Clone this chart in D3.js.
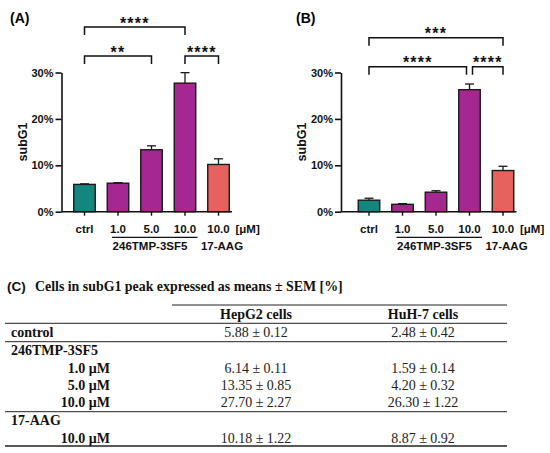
<!DOCTYPE html>
<html>
<head>
<meta charset="utf-8">
<script src="https://cdn.jsdelivr.net/npm/d3@7/dist/d3.min.js"></script>
<style>
html,body{margin:0;padding:0;background:#fff;}
svg{display:block;}
</style>
</head>
<body>
<svg id="chart" width="550" height="453"></svg>
<script>
// ---------- data ----------
const categories = ["ctrl", "1.0", "5.0", "10.0", "10.0 "];
const tickLabels = ["ctrl", "1.0", "5.0", "10.0", "10.0"];
const hepg2Mean = [5.88, 6.14, 13.35, 27.70, 10.18];
const hepg2Sem  = [0.12, 0.11, 0.85, 2.27, 1.22];
const huh7Mean  = [2.48, 1.59, 4.20, 26.30, 8.87];
const huh7Sem   = [0.42, 0.14, 0.32, 1.22, 0.92];
const yTicks = [0, 10, 20, 30];
const barGroup = ["ctrl", "tmp", "tmp", "tmp", "aag"];
// significance: [from index, to index, label, level]
const sigA = [[0, 3, "****", 0], [0, 2, "**", 1], [3, 4, "****", 1]];
const sigB = [[0, 4, "***", 0], [0, 3, "****", 1], [3, 4, "****", 1]];
const tableRows = [
  {label: "control", hep: "5.88 ± 0.12", huh: "2.48 ± 0.42", type: "main"},
  {label: "246TMP-3SF5", hep: "", huh: "", type: "main"},
  {label: "1.0 μM", hep: "6.14 ± 0.11", huh: "1.59 ± 0.14", type: "sub"},
  {label: "5.0 μM", hep: "13.35 ± 0.85", huh: "4.20 ± 0.32", type: "sub"},
  {label: "10.0 μM", hep: "27.70 ± 2.27", huh: "26.30 ± 1.22", type: "sub"},
  {label: "17-AAG", hep: "", huh: "", type: "main"},
  {label: "10.0 μM", hep: "10.18 ± 1.22", huh: "8.87 ± 0.92", type: "sub"}
];
const tableHeaders = ["HepG2 cells", "HuH-7 cells"];

// ---------- style ----------
const colors = {ctrl: "#12877f", tmp: "#a4288f", aag: "#e5625e"};
const SANS = "'Liberation Sans', Arial, sans-serif";
const SERIF = "'Liberation Serif', 'Times New Roman', serif";

const svg = d3.select("#chart");
svg.append("rect").attr("width", 550).attr("height", 453).attr("fill", "#fff");

const y = d3.scaleLinear().domain([0, 30]).range([211.7, 72.5]);

function panel(cfg) {
  const g = svg.append("g");
  const x = d3.scalePoint().domain(categories).range([cfg.x0, cfg.x0 + 134]);
  const bw = 21.5;

  // panel label
  g.append("text").attr("x", cfg.labelX).attr("y", 22.5)
    .attr("font-family", SANS).attr("font-weight", "bold").attr("font-size", 14)
    .text(cfg.label);

  // y axis
  const yAxis = d3.axisLeft(y).tickValues(yTicks).tickFormat(d => d + "%")
    .tickSize(6).tickSizeOuter(0).tickPadding(2);
  const ya = g.append("g").attr("transform", `translate(${cfg.axisX},0)`).call(yAxis);
  ya.select(".domain").attr("stroke", "#111").attr("stroke-width", 1.6);
  ya.selectAll(".tick line").attr("stroke", "#111").attr("stroke-width", 1.6);
  ya.selectAll(".tick text").attr("font-family", SANS).attr("font-weight", "bold")
    .attr("font-size", 11).attr("fill", "#111");

  // y title
  g.append("text").attr("transform", `translate(${cfg.axisX - 35},${142}) rotate(-90)`)
    .attr("text-anchor", "middle").attr("font-family", SANS).attr("font-weight", "bold")
    .attr("font-size", 12.5).attr("fill", "#111").text("subG1");

  // bars
  const data = cfg.mean.map((m, i) => ({c: categories[i], m, s: cfg.sem[i], grp: barGroup[i]}));
  g.selectAll("rect.bar").data(data).enter().append("rect").attr("class", "bar")
    .attr("x", d => x(d.c) - bw / 2).attr("width", bw)
    .attr("y", d => y(d.m)).attr("height", d => y(0) - y(d.m))
    .attr("fill", d => colors[d.grp]).attr("stroke", "#1a1a1a").attr("stroke-width", 1.4);

  // error bars (upper only)
  const eb = g.selectAll("g.err").data(data).enter().append("g").attr("class", "err")
    .attr("stroke", "#1a1a1a").attr("stroke-width", 1.3);
  eb.append("line").attr("x1", d => x(d.c)).attr("x2", d => x(d.c))
    .attr("y1", d => y(d.m)).attr("y2", d => y(d.m + d.s));
  eb.append("line").attr("x1", d => x(d.c) - 4.5).attr("x2", d => x(d.c) + 4.5)
    .attr("y1", d => y(d.m + d.s)).attr("y2", d => y(d.m + d.s));

  // x axis
  g.append("line").attr("x1", cfg.axisX).attr("x2", x(categories[4]) + 13.5)
    .attr("y1", y(0)).attr("y2", y(0)).attr("stroke", "#111").attr("stroke-width", 1.6);
  g.selectAll("line.xt").data(categories).enter().append("line").attr("class", "xt")
    .attr("x1", d => x(d)).attr("x2", d => x(d)).attr("y1", y(0)).attr("y2", y(0) + 4)
    .attr("stroke", "#111").attr("stroke-width", 1.4);
  g.selectAll("text.xl").data(categories).enter().append("text").attr("class", "xl")
    .attr("x", d => x(d)).attr("y", 232.5).attr("text-anchor", "middle")
    .attr("font-family", SANS).attr("font-weight", "bold").attr("font-size", 11.5)
    .attr("fill", "#111").text((d, i) => tickLabels[i]);
  g.append("text").attr("x", x(categories[4]) + 17).attr("y", 232.5)
    .attr("font-family", SANS).attr("font-weight", "bold").attr("font-size", 11.5)
    .attr("fill", "#111").text("[μM]");

  // group underline + labels
  g.append("line").attr("x1", x(categories[1]) - 6).attr("x2", x(categories[3]) + 12.5)
    .attr("y1", 237.3).attr("y2", 237.3).attr("stroke", "#111").attr("stroke-width", 1.2);
  g.append("text").attr("x", x(categories[2]) - 1.5).attr("y", 250).attr("text-anchor", "middle")
    .attr("font-family", SANS).attr("font-weight", "bold").attr("font-size", 11.5)
    .attr("fill", "#111").text("246TMP-3SF5");
  g.append("text").attr("x", x(categories[4]) + 3.5).attr("y", 250).attr("text-anchor", "middle")
    .attr("font-family", SANS).attr("font-weight", "bold").attr("font-size", 11.5)
    .attr("fill", "#111").text("17-AAG");

  // significance brackets
  cfg.sig.forEach(([a, b, lab, lvl]) => {
    const by = cfg.bracketY[lvl];
    let x1 = x(categories[a]), x2 = x(categories[b]);
    if (cfg.gap && lvl === 1) {
      if (b === 3) x2 -= cfg.gap;
      if (a === 3) x1 += cfg.gap;
    }
    g.append("path").attr("d", `M${x1},${by + 8}V${by}H${x2}V${by + 8}`)
      .attr("fill", "none").attr("stroke", "#111").attr("stroke-width", 1.5);
    g.append("text").attr("x", (x1 + x2) / 2).attr("y", by + 1.5).attr("text-anchor", "middle")
      .attr("font-family", SANS).attr("font-weight", "bold").attr("font-size", 16)
      .attr("letter-spacing", 1.2).attr("fill", "#111").text(lab);
  });
}

panel({label: "(A)", labelX: 10, axisX: 61.5, x0: 84.5, mean: hepg2Mean, sem: hepg2Sem,
       sig: sigA, bracketY: [27, 56], gap: 0});
panel({label: "(B)", labelX: 296, axisX: 341, x0: 369, mean: huh7Mean, sem: huh7Sem,
       sig: sigB, bracketY: [37.7, 66.7], gap: 3});

// ---------- table (C) ----------
const t = svg.append("g");
t.append("text").attr("x", 7).attr("y", 290.5).attr("fill", "#111")
  .attr("font-family", SANS).attr("font-weight", "bold").attr("font-size", 13.5).text("(C)");
const titleMain = t.append("text").attr("x", 35).attr("y", 290.5).attr("fill", "#111")
  .attr("font-family", SERIF).attr("font-weight", "bold").attr("font-size", 15.5)
  .text("Cells in subG1 peak expressed as means ± SEM [%]");
// fit title to the reference width (ends near x=343)
const tl = titleMain.node().getComputedTextLength();
if (tl > 0) titleMain.attr("font-size", Math.min(16, 15.5 * 308 / tl));

const colX = [256, 423];
const rule = (x1, x2, yy, w) => t.append("line").attr("x1", x1).attr("x2", x2)
  .attr("y1", yy).attr("y2", yy).attr("stroke", "#222").attr("stroke-width", w);
rule(172, 507, 305, 1);
rule(5, 507, 323.3, 1);
rule(5, 507, 341.7, 1);
rule(5, 507, 411.7, 1);
rule(5, 507, 446, 1.3);

t.selectAll("text.hd").data(tableHeaders).enter().append("text").attr("class", "hd")
  .attr("x", (d, i) => colX[i]).attr("y", 319).attr("text-anchor", "middle")
  .attr("font-family", SERIF).attr("font-weight", "bold").attr("font-size", 14).attr("fill", "#111")
  .text(d => d);

const rowY = [337.3, 355, 372.7, 390, 407.3, 425, 442.7];
tableRows.forEach((r, i) => {
  const yy = rowY[i];
  t.append("text").attr("x", r.type === "main" ? 11 : 110).attr("y", yy)
    .attr("text-anchor", r.type === "main" ? "start" : "end")
    .attr("font-family", SERIF).attr("font-weight", "bold").attr("font-size", 14).attr("fill", "#111")
    .text(r.label);
  [r.hep, r.huh].forEach((v, j) => {
    if (!v) return;
    t.append("text").attr("x", colX[j]).attr("y", yy).attr("text-anchor", "middle")
      .attr("font-family", SERIF).attr("font-size", 14).attr("fill", "#222").text(v);
  });
});
</script>
</body>
</html>
